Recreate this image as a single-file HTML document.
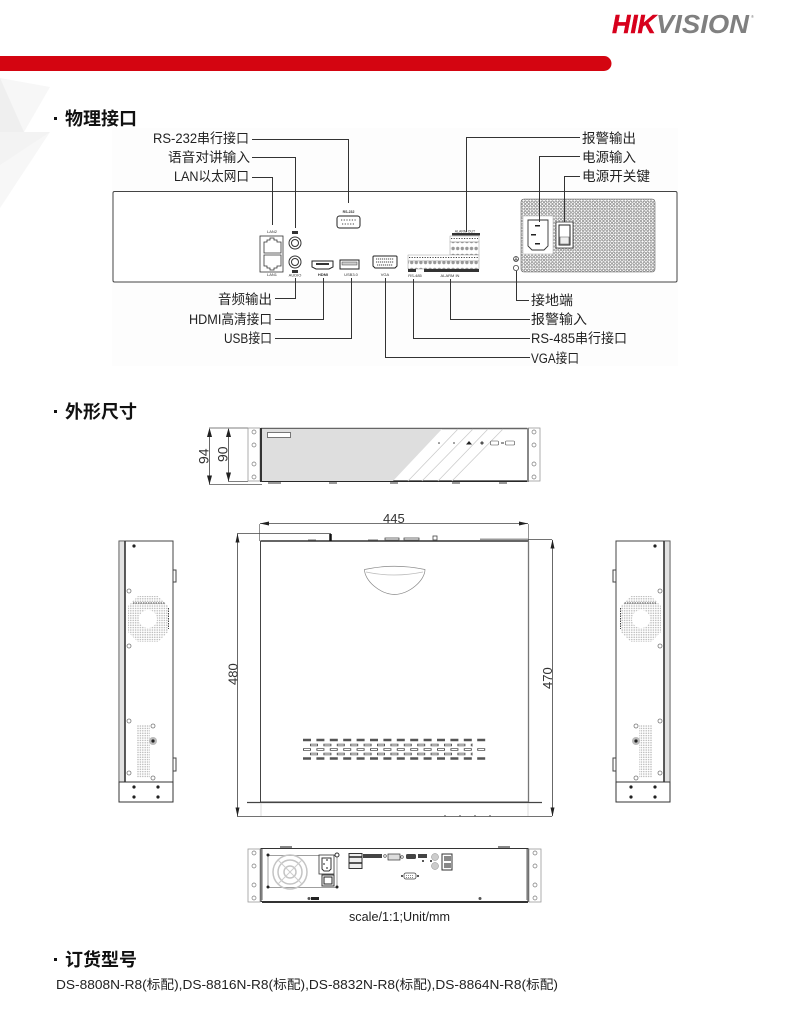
<!DOCTYPE html>
<html lang="zh"><head><meta charset="utf-8"><title>物理接口</title>
<style>html,body{margin:0;padding:0;background:#fff}svg{display:block}
.z{font-family:"Liberation Sans","Noto Sans CJK SC",sans-serif}
.l{font-size:13.5px;fill:#222}
.t{font-size:18px;font-weight:700;fill:#111}
.d{font-size:13px;fill:#333;font-family:"Liberation Sans",sans-serif}
.s{font-size:4px;fill:#333;font-family:"Liberation Sans",sans-serif;text-anchor:middle}
</style></head><body>
<svg width="790" height="1016" viewBox="0 0 790 1016" xmlns="http://www.w3.org/2000/svg">
<defs>
<pattern id="grille" width="3.4" height="3.4" patternUnits="userSpaceOnUse"><circle cx="1.7" cy="1.7" r="1.2" fill="#fff" stroke="#555" stroke-width=".5"/></pattern>
<pattern id="dots" width="2.4" height="2.4" patternUnits="userSpaceOnUse"><rect width="2.4" height="2.4" fill="#fff"/><circle cx="1.2" cy="1.2" r=".75" fill="#b5b5b5"/></pattern>
<pattern id="term" width="4.6" height="7" patternUnits="userSpaceOnUse"><rect width="4.6" height="7" fill="#fff"/><circle cx="2.3" cy="3.5" r="1.7" fill="#999"/></pattern>
<g id="ear"><rect x="0" y="0" width="12" height="53" fill="#fff" stroke="#999" stroke-width=".8"/><circle cx="6" cy="4" r="2" fill="#fff" stroke="#777" stroke-width=".7"/><circle cx="6" cy="17" r="2" fill="#fff" stroke="#777" stroke-width=".7"/><circle cx="6" cy="36" r="2" fill="#fff" stroke="#777" stroke-width=".7"/><circle cx="6" cy="49" r="2" fill="#fff" stroke="#777" stroke-width=".7"/></g>
<g id="side">
<rect x="119" y="541" width="54" height="241" fill="#fff" stroke="#444" stroke-width="1"/>
<rect x="119" y="541" width="6" height="241" fill="#e2e2e2" stroke="#555" stroke-width=".8"/>
<line x1="125" y1="541" x2="125" y2="782" stroke="#333" stroke-width="1.6"/>
<rect x="119" y="782" width="54" height="20" fill="#fff" stroke="#333" stroke-width="1"/>
<path d="M173 570h3v12h-3zM173 758h3v13h-3z" fill="#fff" stroke="#444"/>
<circle cx="134" cy="546" r="1.6" fill="#222"/>
<g fill="#fff" stroke="#777" stroke-width=".8"><circle cx="129" cy="591" r="2"/><circle cx="129" cy="646" r="2"/><circle cx="129" cy="721" r="2"/><circle cx="129" cy="773" r="2"/><circle cx="153" cy="726" r="2"/><circle cx="153" cy="778" r="2"/></g>
<polygon points="138,596 158,596 168,606 168,632 158,642 138,642 128,632 128,606" fill="url(#dots)"/>
<circle cx="148" cy="619" r="9" fill="#fff"/>
<line x1="133" y1="603" x2="165" y2="603" stroke="#444" stroke-width="1" stroke-dasharray="1.5 1"/>
<line x1="168.500" y1="608" x2="168.500" y2="629" stroke="#444" stroke-width="1" stroke-dasharray="1.5 1"/>
<rect x="137" y="725" width="13" height="53" fill="url(#dots)"/>
<circle cx="153" cy="741" r="4" fill="#bbb"/><circle cx="153" cy="741" r="1.6" fill="#222"/>
<g fill="#222"><circle cx="134" cy="787" r="1.6"/><circle cx="158" cy="787" r="1.6"/><circle cx="134" cy="797" r="1.6"/><circle cx="158" cy="797" r="1.6"/></g>
</g>
</defs>
<rect width="790" height="1016" fill="#fff"/>

<!-- watermark -->
<polygon points="0,78 50,87 24,132 50,132 0,208" fill="#f7f7f7"/>
<polygon points="0,78 24,132 0,132" fill="#efefef"/>
<polygon points="0,132 50,132 0,165" fill="#f3f3f3"/>

<!-- logo + bar -->
<text x="612" y="33" style="font:italic 700 26px 'Liberation Sans',sans-serif" fill="#d7001c" stroke="#d7001c" stroke-width=".5" textLength="44" lengthAdjust="spacingAndGlyphs">HIK</text>
<text x="656" y="33" style="font:italic 700 26px 'Liberation Sans',sans-serif" fill="#808080" textLength="93" lengthAdjust="spacingAndGlyphs">VISION</text>
<text x="751" y="18" style="font:4px 'Liberation Sans',sans-serif" fill="#777">®</text>
<path d="M0 56H604a7.500 7.500 0 0 1 0 15H0z" fill="#d40511"/>

<!-- titles -->
<rect x="54" y="117" width="3" height="3" fill="#111"/>
<text x="65" y="125" class="z t" textLength="72" lengthAdjust="spacingAndGlyphs">物理接口</text>
<rect x="54" y="410" width="3" height="3" fill="#111"/>
<text x="65" y="418" class="z t" textLength="72" lengthAdjust="spacingAndGlyphs">外形尺寸</text>
<rect x="54" y="958" width="3" height="3" fill="#111"/>
<text x="65" y="966" class="z t" textLength="72" lengthAdjust="spacingAndGlyphs">订货型号</text>

<!-- interface panel -->
<rect x="112" y="128" width="566" height="238" fill="#fdfdfd"/>
<rect x="113" y="191.500" width="564" height="90.500" rx="1.500" fill="#fff" stroke="#444" stroke-width="1"/>

<!-- labels -->
<g class="z l">
<text x="153" y="143" textLength="96" lengthAdjust="spacingAndGlyphs">RS-232串行接口</text>
<text x="168" y="162" textLength="82" lengthAdjust="spacingAndGlyphs">语音对讲输入</text>
<text x="174" y="181" textLength="75" lengthAdjust="spacingAndGlyphs">LAN以太网口</text>
<text x="218" y="304" textLength="54" lengthAdjust="spacingAndGlyphs">音频输出</text>
<text x="189" y="324" textLength="83" lengthAdjust="spacingAndGlyphs">HDMI高清接口</text>
<text x="224" y="343" textLength="48" lengthAdjust="spacingAndGlyphs">USB接口</text>
<text x="582" y="143" textLength="54" lengthAdjust="spacingAndGlyphs">报警输出</text>
<text x="582" y="162" textLength="54" lengthAdjust="spacingAndGlyphs">电源输入</text>
<text x="582" y="181" textLength="68" lengthAdjust="spacingAndGlyphs">电源开关键</text>
<text x="531" y="305" textLength="42" lengthAdjust="spacingAndGlyphs">接地端</text>
<text x="531" y="324" textLength="56" lengthAdjust="spacingAndGlyphs">报警输入</text>
<text x="531" y="343" textLength="96" lengthAdjust="spacingAndGlyphs">RS-485串行接口</text>
<text x="531" y="363" textLength="48" lengthAdjust="spacingAndGlyphs">VGA接口</text>
</g>

<!-- grille / power -->
<rect x="521" y="199" width="134" height="73" rx="3" fill="url(#grille)" stroke="#666" stroke-width=".6"/>
<rect x="523" y="216" width="30" height="38" fill="#fff" stroke="#bbb" stroke-width=".6"/>
<path d="M528 220H548V246L544 250H532L528 246Z" fill="#fff" stroke="#333" stroke-width=".9"/>
<path d="M535 225h5v1.500h-5zM531 234h5v1.500h-5zM535 243h5v1.500h-5z" fill="#222"/>
<rect x="556" y="222" width="17" height="26" fill="#fff" stroke="#333" stroke-width=".8"/>
<rect x="559" y="225" width="11" height="20" fill="#fff" stroke="#222" stroke-width="1"/>
<path d="M560 237h9v7h-9z" fill="#eee" stroke="#555" stroke-width=".6"/>
<circle cx="516" cy="259" r="2.500" fill="#fff" stroke="#333" stroke-width=".7"/><path d="M516 257v3M514 260h4" stroke="#222" stroke-width=".7"/>
<circle cx="516" cy="268" r="2.600" fill="#fff" stroke="#444" stroke-width=".8"/>

<!-- ports left -->
<rect x="260" y="236" width="23" height="36" fill="#fff" stroke="#333" stroke-width=".8"/>
<path d="M264 253V242h3v-2h3v-2h4v2h3v2h4v11z" fill="#fff" stroke="#333" stroke-width=".8"/>
<path d="M264 255v11h3v2h3v2h4v-2h3v-2h4v-11z" fill="#fff" stroke="#333" stroke-width=".8"/>
<text x="272" y="233" class="s">LAN2</text><text x="272" y="276" class="s">LAN1</text>
<circle cx="295" cy="243" r="6" fill="#fff" stroke="#333"/><circle cx="295" cy="243" r="3.500" fill="#fff" stroke="#333"/>
<circle cx="295" cy="262" r="6" fill="#fff" stroke="#333"/><circle cx="295" cy="262" r="3.500" fill="#fff" stroke="#333"/>
<rect x="292" y="231" width="6" height="3" fill="#333"/><rect x="292" y="270" width="6" height="3" fill="#333"/>
<text x="295" y="276.500" class="s">AUDIO</text>
<path d="M312 261h21v6l-4 2h-13l-4-2z" fill="#fff" stroke="#222"/>
<rect x="316" y="263" width="13" height="2" fill="#333"/>
<text x="323" y="276" class="s" font-weight="700">HDMI</text>
<rect x="340" y="260" width="19" height="9" fill="#fff" stroke="#222"/><rect x="342" y="262" width="15" height="3" fill="#ccc" stroke="#444" stroke-width=".5"/>
<text x="351" y="276" class="s">USB3.0</text>
<path d="M374 256h22a1 1 0 0 1 1 1v9l-2 2h-20l-2-2v-9a1 1 0 0 1 1-1z" fill="#fff" stroke="#222"/>
<path d="M376 259h18M376 262h18M377 265h16" stroke="#444" stroke-dasharray="1.200 .8"/>
<text x="385" y="276" class="s">VGA</text>
<text x="348.500" y="213" class="s" style="font-size:3.500px;font-weight:700">RS-232</text>
<rect x="337" y="216" width="23" height="12" rx="2.500" fill="#fff" stroke="#222"/>
<path d="M341 220h15M342 224h13" stroke="#444" stroke-dasharray="1.200 1.500"/>

<!-- terminals -->
<rect x="452" y="233" width="28" height="2.500" fill="#333"/>
<text x="465" y="232.500" class="s" style="font-size:3.500px">ALARM OUT</text>
<rect x="450" y="236" width="29" height="6" fill="#fff" stroke="#888" stroke-width=".4"/>
<rect x="450" y="242" width="29" height="13" fill="url(#term)" stroke="#888" stroke-width=".4"/>
<rect x="408" y="255" width="71" height="6" fill="#fff" stroke="#888" stroke-width=".4"/>
<path d="M409 257.500h69" stroke="#444" stroke-dasharray="1.200 1.400"/><path d="M451 238.500h27" stroke="#444" stroke-dasharray="1.200 1.400"/>
<rect x="408" y="261" width="71" height="8" fill="url(#term)" stroke="#888" stroke-width=".4"/>
<rect x="424" y="269" width="55" height="3" fill="#333"/><rect x="408" y="269" width="8" height="3" fill="#333"/>
<text x="415" y="277" class="s">RS-485</text><text x="450" y="277" class="s">ALARM IN</text>

<!-- connectors -->
<g fill="none" stroke="#333" stroke-width="1">
<path d="M252 139.500H348.500V203"/>
<path d="M252 157.500H295.500V228"/>
<path d="M252 177.500H272.500V225"/>
<path d="M275 298.500H295.500V278"/>
<path d="M275 319.500H323.500V278"/>
<path d="M275 338.500H351.500V278"/>
<path d="M530 357.500H385.500V278"/>
<path d="M530 338.500H413.500V279"/>
<path d="M530 319.500H450.500V279"/>
<path d="M529 300.500H516.500V271"/>
<path d="M580 137.500H466.500V232"/>
<path d="M580 156.500H539.500V222"/>
<path d="M580 176.500H564.500V222"/>
</g>

<!-- front view with dims -->
<path d="M209 428H248M209 484.500H262M228 481.500H248" stroke="#555" stroke-width=".8"/>
<path d="M209.500 429V484M228.500 429V481" stroke="#444" stroke-width=".8"/>
<path d="M209.500 428l-2.500 9h5zM209.500 484.500l-2.500-9h5zM228.500 428l-2.500 9h5zM228.500 481.500l-2.500-9h5z" fill="#222"/>
<text class="d" transform="translate(208.500,464) rotate(-90)" style="font-size:14px">94</text>
<text class="d" transform="translate(227.500,462) rotate(-90)" style="font-size:14px">90</text>
<use href="#ear" x="248" y="428"/><use href="#ear" x="528" y="428"/>
<rect x="260.500" y="428.500" width="267" height="53" fill="#fff" stroke="#333" stroke-width="1"/>
<path d="M261 428.500H527" stroke="#666" stroke-width="1.500"/><path d="M261 481H527" stroke="#222" stroke-width="1.300"/>
<rect x="260" y="428" width="2" height="54" fill="#333"/><rect x="527" y="428" width="2" height="54" fill="#888"/>
<polygon points="262,429 442,429 393,481 262,481" fill="#dedede"/>
<rect x="267.500" y="432.500" width="23" height="5" fill="#fff" stroke="#444" stroke-width=".7"/>
<path d="M458 429L408 481M473 429L422 481M488 429L438 481M503 429L452 481" stroke="#ccc" stroke-width=".8"/>
<path d="M268 482h13v2h-13zM329 482h8v2h-8zM390 482h8v2h-8zM452 482h8v2h-8zM499 482h8v2h-8z" fill="#999"/>
<circle cx="439" cy="443" r=".8" fill="#333"/><circle cx="454" cy="443" r="1" fill="#888"/>
<path d="M469 441l3 3.500h-6z" fill="#222"/><path d="M482 441l2 2-2 2-2-2z" fill="#555"/>
<rect x="490.500" y="441" width="8" height="4" rx="1" fill="#fff" stroke="#444" stroke-width=".6"/>
<path d="M501 443h3" stroke="#333"/>
<rect x="505.500" y="441" width="9" height="4" rx="1" fill="#fff" stroke="#444" stroke-width=".6"/>

<!-- top view -->
<text x="383" y="523" class="d" style="font-size:13px">445</text>
<path d="M260 523.500H528" stroke="#444" stroke-width=".8"/>
<path d="M260 523.500l9-2v4zM528 523.500l-9-2v4z" fill="#222"/>
<path d="M259.500 524V541M528.500 524V541" stroke="#666" stroke-width=".7"/>
<path d="M237 533.500H331M237 816.500H552M528 539.500H552" stroke="#444" stroke-width=".8"/>
<path d="M237.500 534V816M552.500 540V816" stroke="#444" stroke-width=".8"/>
<path d="M237.500 533.500l-2 9h4zM237.500 816.500l-2-9h4zM552.500 539.500l-2 9h4zM552.500 816.500l-2-9h4z" fill="#222"/>
<text class="d" transform="translate(237.500,685) rotate(-90)" style="font-size:13px">480</text>
<text class="d" transform="translate(552,689) rotate(-90)" style="font-size:13px">470</text>
<rect x="260.500" y="541" width="268" height="261" fill="#fff" stroke="#444" stroke-width="1"/>
<path d="M261 541H528" stroke="#333" stroke-width="1.600"/>
<path d="M528.500 541V802" stroke="#777" stroke-width="1.300"/>
<path d="M247 802.500H542" stroke="#444" stroke-width="1.300"/>
<path d="M261 803V816M528 803V816" stroke="#ddd"/>
<path d="M330.500 534V541" stroke="#111" stroke-width="2.500"/>
<path d="M308 540h8M368 540h10M385 540h14V538h-14zM404 540h15V538h-15z" stroke="#444" stroke-width=".8" fill="#fff"/>
<rect x="433" y="536" width="4" height="4" fill="#fff" stroke="#444" stroke-width=".8"/>
<path d="M480 539.500H528" stroke="#999" stroke-width="2"/>
<path d="M364.500 569.500Q394 563 425 569.500C425 580 410 594 394.500 594.500C379 594 364.500 580 364.500 569.500Z" fill="#fff" stroke="#888" stroke-width=".7"/>
<path d="M366 572Q394 578 423 572" fill="none" stroke="#bbb" stroke-width=".7"/>
<!-- vents -->
<g fill="none" stroke="#555" stroke-width="2.400" stroke-dasharray="8 5.400">
<path d="M303 740H487"/><path d="M310 745H473"/><path d="M303 749.500H487"/><path d="M310 754H473"/><path d="M303 758.500H487"/>
</g>
<g fill="none" stroke="#fff" stroke-width=".9" stroke-dasharray="6 7.400">
<path d="M304 745.000H304"/><path d="M311 745H473"/><path d="M304 749.500H487"/><path d="M311 754H473"/>
</g>
<path d="M444 816h2M459 816h2M474 816h2M489 816h2" stroke="#666" stroke-width="1.200"/>

<!-- side views -->
<use href="#side"/>
<use href="#side" transform="translate(789,0) scale(-1,1)"/>

<!-- rear view -->
<use href="#ear" x="248" y="849"/><use href="#ear" x="529" y="849"/>
<rect x="261" y="848.500" width="267" height="53" fill="#fff" stroke="#333" stroke-width="1"/>
<path d="M262 902H528" stroke="#333" stroke-width="2"/>
<path d="M262 849V900M527 849V900" stroke="#999" stroke-width="1.500"/>
<path d="M280 846h12v2h-12zM498 846h12v2h-12z" fill="#888"/>
<rect x="268" y="855.500" width="69" height="32" fill="#fff" stroke="#888" stroke-width=".8"/>
<g fill="none" stroke="#c4c4c4" stroke-width="1.500"><circle cx="290" cy="872" r="17"/><circle cx="290" cy="872" r="12"/><circle cx="290" cy="872" r="6"/></g>
<path d="M278 860L302 884M302 860L278 884" stroke="#ccc" stroke-width="1"/>
<g fill="#222"><circle cx="268" cy="855" r="1.500"/><circle cx="268" cy="887" r="1.500"/><circle cx="337" cy="887" r="1.500"/></g>
<circle cx="337" cy="855" r="2" fill="#fff" stroke="#333"/>
<rect x="319" y="855" width="15" height="19" fill="#fff" stroke="#333" stroke-width=".8"/>
<path d="M322 858h9v11l-2 2h-5l-2-2z" fill="#fff" stroke="#333"/>
<path d="M326 860h2M323 864h2M326 868h2" stroke="#222"/>
<rect x="322" y="875" width="12" height="11" fill="#fff" stroke="#333"/>
<rect x="324" y="877" width="8" height="7" fill="#fff" stroke="#222"/>
<rect x="349" y="853.500" width="13" height="15" fill="#eee" stroke="#333"/>
<path d="M349 857h13M349 863h13" stroke="#222" stroke-width="1.500"/>
<rect x="363" y="854" width="19" height="4" fill="#444"/>
<circle cx="385" cy="856" r="1.300" fill="#fff" stroke="#333" stroke-width=".6"/>
<rect x="388" y="854" width="12" height="6" fill="#ddd" stroke="#333" stroke-width=".7"/>
<circle cx="402" cy="857" r="1.300" fill="#fff" stroke="#333" stroke-width=".6"/>
<rect x="406" y="854" width="10" height="5" rx="1.500" fill="#444"/>
<rect x="418" y="854" width="9" height="4" fill="#444"/>
<circle cx="423" cy="861" r="1" fill="#222"/><circle cx="431" cy="861" r="1" fill="#222"/>
<circle cx="435" cy="857" r="3.500" fill="#ccc" stroke="#888" stroke-width=".5"/>
<circle cx="435" cy="866" r="3.500" fill="#ccc" stroke="#888" stroke-width=".5"/>
<rect x="442" y="854" width="10" height="16" fill="#fff" stroke="#333"/>
<rect x="444" y="856" width="7" height="5" fill="#888"/><rect x="444" y="863" width="7" height="5" fill="#888"/>
<rect x="404" y="873" width="12" height="6" rx="2" fill="#fff" stroke="#444" stroke-width=".8"/>
<path d="M406 875.500h8M406 877.500h8" stroke="#666" stroke-dasharray="1 1" stroke-width=".8"/>
<circle cx="402" cy="876" r="1" fill="#222"/><circle cx="418" cy="876" r="1" fill="#222"/>
<rect x="311" y="897" width="8" height="3" fill="#222"/><circle cx="309" cy="898.500" r="1.500" fill="#555"/>
<circle cx="480" cy="898.500" r="1.500" fill="#555"/>
<text x="349" y="921" style="font:13px 'Liberation Sans',sans-serif" fill="#222" textLength="101" lengthAdjust="spacingAndGlyphs">scale/1:1;Unit/mm</text>

<!-- order -->
<text x="56" y="989" class="z" style="font-size:13px" fill="#222" textLength="502" lengthAdjust="spacingAndGlyphs">DS-8808N-R8(标配),DS-8816N-R8(标配),DS-8832N-R8(标配),DS-8864N-R8(标配)</text>
</svg>
</body></html>
